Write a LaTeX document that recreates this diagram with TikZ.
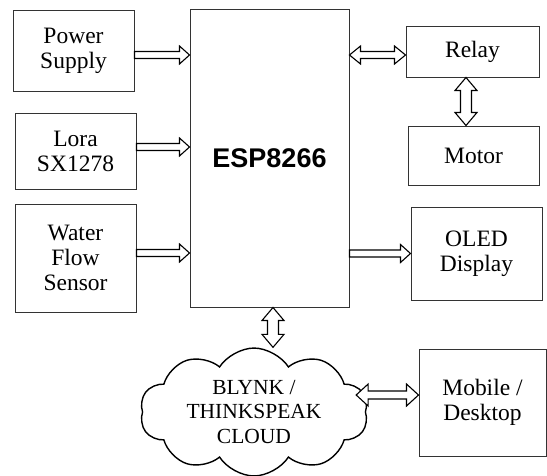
\documentclass[tikz,border=0pt]{standalone}
\usepackage{fontspec}
\setmainfont{Liberation Serif}
\newfontfamily\espfont{Liberation Sans}
\usepackage{tikz}
\usetikzlibrary{shapes.symbols, calc}

\tikzset{
  blk/.style={draw=black!80, line width=1pt, align=center, inner sep=0pt,
              font=\rmfamily\fontsize{23.5}{25}\selectfont},
  sarrow/.style n args={3}{to path={
    let \p1=(\tikztostart), \p2=(\tikztotarget), \n1={atan2(\y2-\y1,\x2-\x1)} in
    ($(\p1)+({\n1+90}:#1)$)
    -- ($(\p2)+({\n1+180}:#3)+({\n1+90}:#1)$)
    -- ($(\p2)+({\n1+180}:#3)+({\n1+90}:#2)$)
    -- (\p2)
    -- ($(\p2)+({\n1+180}:#3)+({\n1-90}:#2)$)
    -- ($(\p2)+({\n1+180}:#3)+({\n1-90}:#1)$)
    -- ($(\p1)+({\n1-90}:#1)$) -- cycle}},
  darrow/.style n args={3}{to path={
    let \p1=(\tikztostart), \p2=(\tikztotarget), \n1={atan2(\y2-\y1,\x2-\x1)} in
    (\p1)
    -- ($(\p1)+(\n1:#3)+({\n1+90}:#2)$)
    -- ($(\p1)+(\n1:#3)+({\n1+90}:#1)$)
    -- ($(\p2)+({\n1+180}:#3)+({\n1+90}:#1)$)
    -- ($(\p2)+({\n1+180}:#3)+({\n1+90}:#2)$)
    -- (\p2)
    -- ($(\p2)+({\n1+180}:#3)+({\n1-90}:#2)$)
    -- ($(\p2)+({\n1+180}:#3)+({\n1-90}:#1)$)
    -- ($(\p1)+(\n1:#3)+({\n1-90}:#1)$)
    -- ($(\p1)+(\n1:#3)+({\n1-90}:#2)$)
    -- cycle}},
  link/.style={draw=black, line width=1.1pt, fill=white, line join=miter}
}

\begin{document}
\begin{tikzpicture}[x=1pt, y=-1pt]
  \useasboundingbox[fill=white] (0,0) rectangle (547,475);

  % inputs
  \node[blk, minimum width=121pt, minimum height=81pt] (pwr) at (73.5,50.5) {Power\\Supply};
  \node[blk, minimum width=121pt, minimum height=76pt] (lora) at (75.5,151) {Lora\\SX1278};
  \node[blk, minimum width=121pt, minimum height=108pt] (flow) at (75.5,258) {Water\\Flow\\Sensor};

  \node[blk, minimum width=159pt, minimum height=298pt,
        font=\espfont\bfseries\fontsize{27}{30}\selectfont] (esp) at (269.5,158) {ESP8266};

  % outputs
  \node[blk, minimum width=133pt, minimum height=51pt] (relay) at (472.5,51.5) {Relay};
  \node[blk, minimum width=131pt, minimum height=59pt] (motor) at (473.5,155.5) {Motor};
  \node[blk, minimum width=131pt, minimum height=93pt] (oled) at (476.5,253.5) {OLED\\Display};

  \node[draw=black, line width=1.4pt, cloud, cloud puffs=10, cloud puff arc=115, aspect=1.9,
        minimum width=228pt, minimum height=120pt, inner sep=0pt, align=center,
        font=\rmfamily\fontsize{21.5}{24.5}\selectfont] (cloud) at (254,412) {BLYNK /\\THINKSPEAK\\CLOUD};
  \node[blk, minimum width=127pt, minimum height=107pt] (mob) at (482.5,402.5) {Mobile /\\Desktop};

  \coordinate (p1) at ([yshift=-4.5pt]pwr.east);
  \coordinate (l1) at ([yshift=4pt]lora.east);
  \coordinate (f1) at ([yshift=5pt]flow.east);
  \coordinate (r1) at ([yshift=-3.5pt]relay.west);
  \coordinate (r2) at ([xshift=-6.5pt]relay.south);
  \coordinate (e1) at ([xshift=3.5pt]esp.south);
  \coordinate (m1) at ([yshift=7.5pt]mob.west);
  \coordinate (c1) at ([xshift=-10pt]cloud.east);

  \draw[link] (p1) to[sarrow={3.5pt}{9pt}{10pt}] (p1 -| esp.west);
  \draw[link] (l1) to[sarrow={3.5pt}{9pt}{10pt}] (l1 -| esp.west);
  \draw[link] (f1) to[sarrow={3.5pt}{9pt}{10pt}] (f1 -| esp.west);
  \draw[link] (r1 -| esp.east) to[darrow={3.5pt}{9pt}{11pt}] (r1);
  \draw[link] (oled.west -| esp.east) to[sarrow={3.5pt}{9pt}{10pt}] (oled.west);
  \draw[link] (r2) to[darrow={5.5pt}{11pt}{13pt}] (r2 |- motor.north);
  \draw[link] (e1) to[darrow={5.5pt}{11pt}{13pt}] (e1 |- cloud.north);
  \draw[link] (m1 -| c1) to[darrow={4pt}{11pt}{12pt}] (m1);
\end{tikzpicture}
\end{document}
